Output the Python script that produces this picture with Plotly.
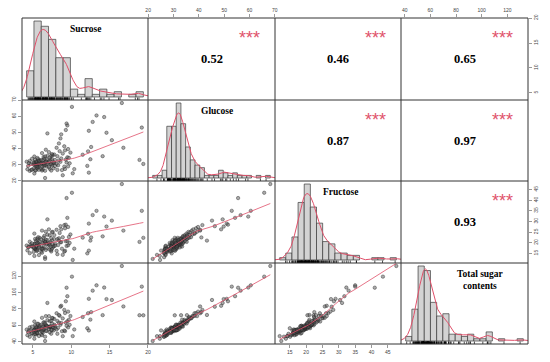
import numpy as np
import plotly.graph_objects as go

# ---------------- data ----------------
sucrose = [
    5.2, 7.4, 8.2, 4.6, 5.4, 5.8, 6.3, 9.2, 5.1, 7.7,
    6.6, 4.3, 8.8, 5.6, 5.3, 6.1, 4.8, 7.2, 5.7, 6.8,
    9.6, 5.5, 7.9, 4.4, 6.4, 5.9, 7.5, 8.3, 5.2, 6.7,
    4.9, 7.1, 9.1, 5.6, 6.2, 5.4, 6.5, 5.1, 7.3, 4.7,
    5.8, 6.9, 8.1, 5.3, 6.1, 7.6, 5.5, 4.5, 6.3, 7.8,
    5.7, 9.4, 6.6, 5.2, 7.1, 5.9, 8.6, 4.2, 6.8, 5.6,
    7.4, 6.4, 5.1, 7.7, 9.8, 5.4, 6.2, 5.5, 6.7, 7.2,
    4.6, 5.9, 8.4, 6.3, 7.9, 5.3, 9.3, 6.8, 5.7, 7.5,
    4.9, 6.5, 8.7, 5.8, 7.3, 6.1, 5.6, 7.2, 9.5, 6.4,
    5.2, 8.2, 6.9, 7.4, 7.6, 9.7, 6.6, 7.8, 7.5, 8.9,
    6.2, 9.9, 7.1, 8.5, 9.2, 6.7, 9.6, 8.1, 9.1,
    16.6, 10.1, 13.3, 14.3, 9.4, 12.8, 19.2, 12.3, 14.6, 9.5,
    9.3, 6.9, 8.7, 8.4, 8.6, 12.2, 12.6, 16.8, 18.9, 19.4,
    12.1, 12.3, 10.2, 6.6, 8.9, 11.5, 15.3, 10.4, 12.5, 14.1,
]
glucose = [
    24.6, 26.4, 26.8, 26.2, 26.5, 26.9, 27.1, 27.4, 27.6, 27.8,
    26.3, 27.2, 26.7, 27.9, 26.6, 27.3, 26.8, 27.5, 28.7, 28.9,
    29.0, 29.1, 29.2, 29.3, 29.4, 29.5, 29.6, 29.7, 29.8, 29.9,
    27.0, 28.5, 28.8, 29.6, 26.4, 29.2, 29.5, 30.3, 30.3, 30.4,
    30.5, 30.6, 30.6, 30.7, 30.8, 30.9, 31.0, 31.1, 31.1, 31.2,
    31.3, 31.4, 31.5, 31.5, 31.6, 31.7, 31.8, 31.9, 31.9, 28.7,
    30.4, 30.7, 31.2, 31.6, 30.9, 31.8, 28.9, 32.1, 32.2, 32.3,
    32.4, 32.6, 32.7, 32.8, 32.9, 33.1, 33.2, 33.3, 33.5, 33.6,
    33.7, 33.8, 33.9, 32.5, 33.4, 32.9, 34.2, 34.4, 34.6, 34.8,
    35.1, 35.3, 35.5, 35.7, 35.9, 34.3, 35.2, 36.3, 36.6, 36.9,
    37.2, 37.5, 37.8, 38.4, 38.9, 39.3, 39.7, 40.5, 41.4,
    68.2, 65.8, 60.5, 59.5, 55.5, 56.5, 53.0, 51.0, 49.8, 54.3,
    51.5, 49.4, 48.8, 43.2, 46.3, 38.3, 41.0, 40.5, 33.0, 30.5,
    29.3, 25.1, 24.7, 21.8, 23.5, 36.2, 45.2, 27.3, 33.4, 35.3,
]
fructose = [
    13.8, 15.9, 14.6, 15.1, 16.8, 14.2, 17.5, 16.2, 15.7, 18.1,
    13.2, 16.4, 17.2, 16.9, 17.1, 15.8, 18.3, 16.8, 19.2, 17.4,
    18.8, 16.1, 19.6, 17.9, 18.5, 20.3, 17.2, 18.9, 19.4, 16.6,
    18.6, 19.9, 15.8, 21.2, 15.3, 18.2, 19.7, 17.5, 20.4, 19.0,
    18.4, 21.3, 16.2, 19.5, 17.2, 19.3, 18.4, 18.1, 16.9, 21.7,
    19.8, 18.5, 20.6, 17.6, 19.1, 22.3, 20.2, 18.7, 19.6, 16.4,
    16.6, 20.9, 17.8, 18.4, 19.9, 21.0, 17.2, 19.6, 21.4, 18.9,
    20.5, 19.2, 22.1, 19.9, 18.6, 21.8, 20.7, 19.4, 22.6, 21.1,
    19.7, 23.2, 20.3, 17.8, 18.2, 21.6, 21.9, 23.5, 20.8, 22.4,
    24.3, 21.7, 23.8, 22.2, 25.1, 22.7, 20.4, 23.6, 24.9, 22.6,
    25.7, 23.9, 26.3, 24.6, 26.8, 25.2, 27.4, 26.1, 28.3,
    47.6, 43.5, 35.0, 32.3, 41.0, 33.0, 35.0, 29.0, 27.6, 31.7,
    28.5, 31.0, 26.3, 21.0, 27.8, 24.2, 22.5, 25.7, 20.4, 22.3,
    15.0, 16.3, 11.9, 12.4, 14.3, 22.4, 30.4, 17.2, 21.0, 23.0,
]
total = [
    43.6, 49.7, 49.6, 45.9, 48.7, 46.9, 50.9, 52.8, 48.4, 53.6,
    46.1, 47.9, 52.7, 50.4, 49.0, 49.2, 49.9, 51.5, 53.6, 53.1,
    57.4, 50.7, 56.7, 51.6, 54.3, 55.7, 54.3, 56.9, 54.4, 53.2,
    50.5, 55.5, 53.7, 56.4, 47.9, 52.8, 55.7, 52.9, 58.0, 54.1,
    54.7, 58.8, 54.9, 55.5, 54.1, 57.8, 54.9, 53.7, 54.3, 60.7,
    56.8, 59.3, 58.7, 54.3, 57.8, 59.9, 60.6, 54.8, 58.3, 50.7,
    54.4, 58.0, 54.1, 57.7, 60.6, 58.2, 52.3, 57.2, 60.3, 58.4,
    57.5, 57.7, 63.2, 59.0, 59.4, 60.2, 63.2, 59.5, 61.8, 62.2,
    58.3, 63.5, 62.9, 56.1, 58.9, 60.6, 61.7, 65.1, 64.9, 63.6,
    64.6, 65.2, 66.2, 65.3, 68.6, 66.7, 62.2, 67.7, 69.0, 68.4,
    69.1, 71.3, 71.2, 71.5, 74.9, 71.2, 76.7, 74.7, 78.8,
    132.4, 119.4, 108.8, 106.1, 105.9, 102.3, 107.2, 92.3, 92.0, 95.5,
    89.3, 87.3, 83.8, 72.6, 82.7, 74.7, 76.1, 83.0, 72.3, 72.2,
    56.4, 53.7, 46.8, 40.8, 46.7, 70.1, 90.9, 54.9, 66.9, 72.4,
]

var_labels = ["Sucrose", "Glucose", "Fructose", "Total sugar<br>contents"]
corr_pairs = [(0, 1), (0, 2), (0, 3), (1, 2), (1, 3), (2, 3)]
corr_text = ["0.52", "0.46", "0.65", "0.87", "0.97", "0.93"]
signif_text = ["***", "***", "***", "***", "***", "***"]
tick_values = [[5, 10, 15, 20], [20, 30, 40, 50, 60, 70],
               [15, 20, 25, 30, 35, 40, 45], [40, 60, 80, 100, 120]]
hist_start = [4, 20, 10, 40]
hist_end = [20, 70, 48, 135]
hist_width = [1, 2, 2, 5]

variables = [sucrose, glucose, fructose, total]

# ---------------- helpers ----------------
W, H = 550, 362
XE = [22, 148, 275, 401, 528]
YE = [18, 100, 181, 263, 344]
RED = "#E0506A"
STAR = "#DF536B"


def names(r, c):
    k = r * 4 + c + 1
    s = "" if k == 1 else str(k)
    return "x" + s, "y" + s, "xaxis" + s, "yaxis" + s


def padded(v):
    lo, hi = min(v), max(v)
    d = hi - lo
    return [lo - 0.04 * d, hi + 0.04 * d]


def kde(v):
    v = np.asarray(v, float)
    n = len(v)
    sd = v.std(ddof=1)
    q75, q25 = np.percentile(v, [75, 25])
    bw = 0.9 * min(sd, (q75 - q25) / 1.34) * n ** -0.2
    xs = np.linspace(v.min() - 3 * bw, v.max() + 3 * bw, 512)
    ys = np.exp(-0.5 * ((xs[:, None] - v[None, :]) / bw) ** 2).sum(1) / (n * bw * np.sqrt(2 * np.pi))
    return xs, ys


def lowess(x, y, f=2 / 3, it=3):
    x = np.asarray(x, float)
    y = np.asarray(y, float)
    o = np.argsort(x, kind="stable")
    x, y = x[o], y[o]
    n = len(x)
    ns = max(min(int(f * n + 1e-7), n), 2)
    rng = x.max() - x.min()
    rw = np.ones(n)
    ys = np.zeros(n)
    for itn in range(it + 1):
        for i in range(n):
            d = np.abs(x - x[i])
            h = np.sort(d)[ns - 1]
            if h > 0:
                r = d / h
                w = np.where(r <= 0.001, 1.0, np.where(r <= 0.999, (1 - r ** 3) ** 3, 0.0))
            else:
                w = (d == 0).astype(float)
            w = w * rw
            a = w.sum()
            if a <= 0:
                ys[i] = y[i]
                continue
            w = w / a
            if h > 0:
                xm = (w * x).sum()
                c = (w * (x - xm) ** 2).sum()
                if np.sqrt(c) > 0.001 * rng:
                    b = (x[i] - xm) / c
                    w = w * (b * (x - xm) + 1)
            ys[i] = (w * y).sum()
        if itn == it:
            break
        res = y - ys
        cmad = 6 * np.median(np.abs(res))
        if cmad < 1e-7 * np.mean(np.abs(y)):
            break
        rr = np.abs(res) / cmad
        rw = np.where(rr <= 0.001, 1.0, np.where(rr <= 0.999, (1 - rr ** 2) ** 2, 0.0))
    return x, ys


# ---------------- figure ----------------
fig = go.Figure()
layout_axes = {}
annotations = []
shapes = []

base_axis = dict(showgrid=False, zeroline=False, showline=False, ticks="",
                 showticklabels=False, fixedrange=True, automargin=False)
tick_style = dict(ticks="outside", ticklen=3, tickwidth=0.6, tickcolor="#555",
                  showticklabels=True,
                  tickfont=dict(size=5, color="#444", family="Liberation Sans"))

for r in range(4):
    for c in range(4):
        xn, yn, xk, yk = names(r, c)
        xdom = [XE[c] / W, XE[c + 1] / W]
        ydom = [1 - YE[r + 1] / H, 1 - YE[r] / H]
        xa = dict(base_axis, domain=xdom, anchor=yn)
        ya = dict(base_axis, domain=ydom, anchor=xn)

        if r == c:
            v = variables[r]
            s0, s1, bw_ = hist_start[r], hist_end[r], hist_width[r]
            edges = np.arange(s0, s1 + bw_ / 2, bw_)
            dens, _ = np.histogram(v, bins=edges, density=True)
            maxd = dens.max()
            xr = [s0 - 0.04 * (s1 - s0), s1 + 0.04 * (s1 - s0)]
            yr = [-0.04 * maxd, 1.04 * maxd]
            xa["range"] = xr
            ya["range"] = yr
            fig.add_trace(go.Histogram(
                x=v, xbins=dict(start=s0, end=s1, size=bw_),
                histnorm="probability density",
                marker=dict(color="#D3D3D3", line=dict(color="#3a3a3a", width=0.7)),
                xaxis=xn, yaxis=yn, hoverinfo="skip"))
            kx, ky = kde(v)
            fig.add_trace(go.Scatter(x=kx, y=ky, mode="lines",
                                     line=dict(color=RED, width=1),
                                     xaxis=xn, yaxis=yn, hoverinfo="skip"))
            # rug
            rx, ry = [], []
            y0 = yr[0]
            y1 = yr[0] + 0.03 * (yr[1] - yr[0])
            for val in v:
                rx += [val, val, None]
                ry += [y0, y1, None]
            fig.add_trace(go.Scatter(x=rx, y=ry, mode="lines",
                                     line=dict(color="black", width=0.7),
                                     xaxis=xn, yaxis=yn, hoverinfo="skip"))
            lab = var_labels[r]
            pos = [(0.51, 0.866), (0.543, 0.869), (0.516, 0.861), (0.625, 0.794)][r]
            annotations.append(dict(text="<b>" + lab + "</b>", x=pos[0], y=pos[1],
                                    xref=xn + " domain", yref=yn + " domain",
                                    showarrow=False, xanchor="center", yanchor="middle",
                                    font=dict(family="Liberation Serif", size=9.5, color="black")))
        else:
            xr = padded(variables[c])
            yr = padded(variables[r])
            xa["range"] = xr
            ya["range"] = yr
            if r > c:
                fig.add_trace(go.Scatter(
                    x=variables[c], y=variables[r], mode="markers",
                    marker=dict(size=3.4, color="rgba(85,85,85,0.5)",
                                line=dict(color="rgba(30,30,30,0.8)", width=0.5)),
                    xaxis=xn, yaxis=yn, hoverinfo="skip"))
                lx, ly = lowess(variables[c], variables[r])
                fig.add_trace(go.Scatter(x=lx, y=ly, mode="lines",
                                         line=dict(color=RED, width=0.8),
                                         xaxis=xn, yaxis=yn, hoverinfo="skip"))
            else:
                # invisible placeholder so the upper panel axes are created
                fig.add_trace(go.Scatter(x=[np.mean(xr)], y=[np.mean(yr)], mode="markers",
                                         marker=dict(size=1, opacity=0),
                                         xaxis=xn, yaxis=yn, hoverinfo="skip"))

        # outer axes ticks (R pairs style)
        if r == 0 and c in (1, 3):
            xa.update(tick_style, side="top", tickvals=tick_values[c],
                      ticktext=[str(t) for t in tick_values[c]])
        if r == 3 and c in (0, 2):
            xa.update(tick_style, side="bottom", tickvals=tick_values[c],
                      ticktext=[str(t) for t in tick_values[c]])
        if c == 0 and r in (1, 3):
            ya.update(tick_style, side="left", tickangle=-90, tickvals=tick_values[r],
                      ticktext=[str(t) for t in tick_values[r]])
        if c == 3 and r in (0, 2):
            ya.update(tick_style, side="right", tickangle=-90, tickvals=tick_values[r],
                      ticktext=[str(t) for t in tick_values[r]])
        layout_axes[xk] = xa
        layout_axes[yk] = ya

# correlation text in the upper panels
for (i, j), txt, sig in zip(corr_pairs, corr_text, signif_text):
    xn, yn, _, _ = names(i, j)
    annotations.append(dict(text="<b>" + txt + "</b>", x=0.5, y=0.5,
                            xref=xn + " domain", yref=yn + " domain",
                            showarrow=False, xanchor="center", yanchor="middle",
                            font=dict(family="Liberation Serif", size=12.5, color="black")))
    annotations.append(dict(text=sig, x=0.8, y=0.8, yshift=-4,
                            xref=xn + " domain", yref=yn + " domain",
                            showarrow=False, xanchor="center", yanchor="middle",
                            font=dict(family="Liberation Sans", size=18, color=STAR)))

# panel borders (gap = 0)
for xv in XE:
    shapes.append(dict(type="line", xref="paper", yref="paper",
                       x0=xv / W, x1=xv / W, y0=1 - YE[-1] / H, y1=1 - YE[0] / H,
                       line=dict(color="#333", width=1), layer="above"))
for yv in YE:
    shapes.append(dict(type="line", xref="paper", yref="paper",
                       x0=XE[0] / W, x1=XE[-1] / W, y0=1 - yv / H, y1=1 - yv / H,
                       line=dict(color="#333", width=1), layer="above"))

fig.update_layout(width=W, height=H, margin=dict(l=0, r=0, t=0, b=0),
                  paper_bgcolor="white", plot_bgcolor="white",
                  showlegend=False, bargap=0,
                  annotations=annotations, shapes=shapes, **layout_axes)

fig.write_html("out.html",
               config={"displayModeBar": False, "staticPlot": True},
               post_script="document.body.style.margin='0px';"
                           "document.body.style.overflow='hidden';")
